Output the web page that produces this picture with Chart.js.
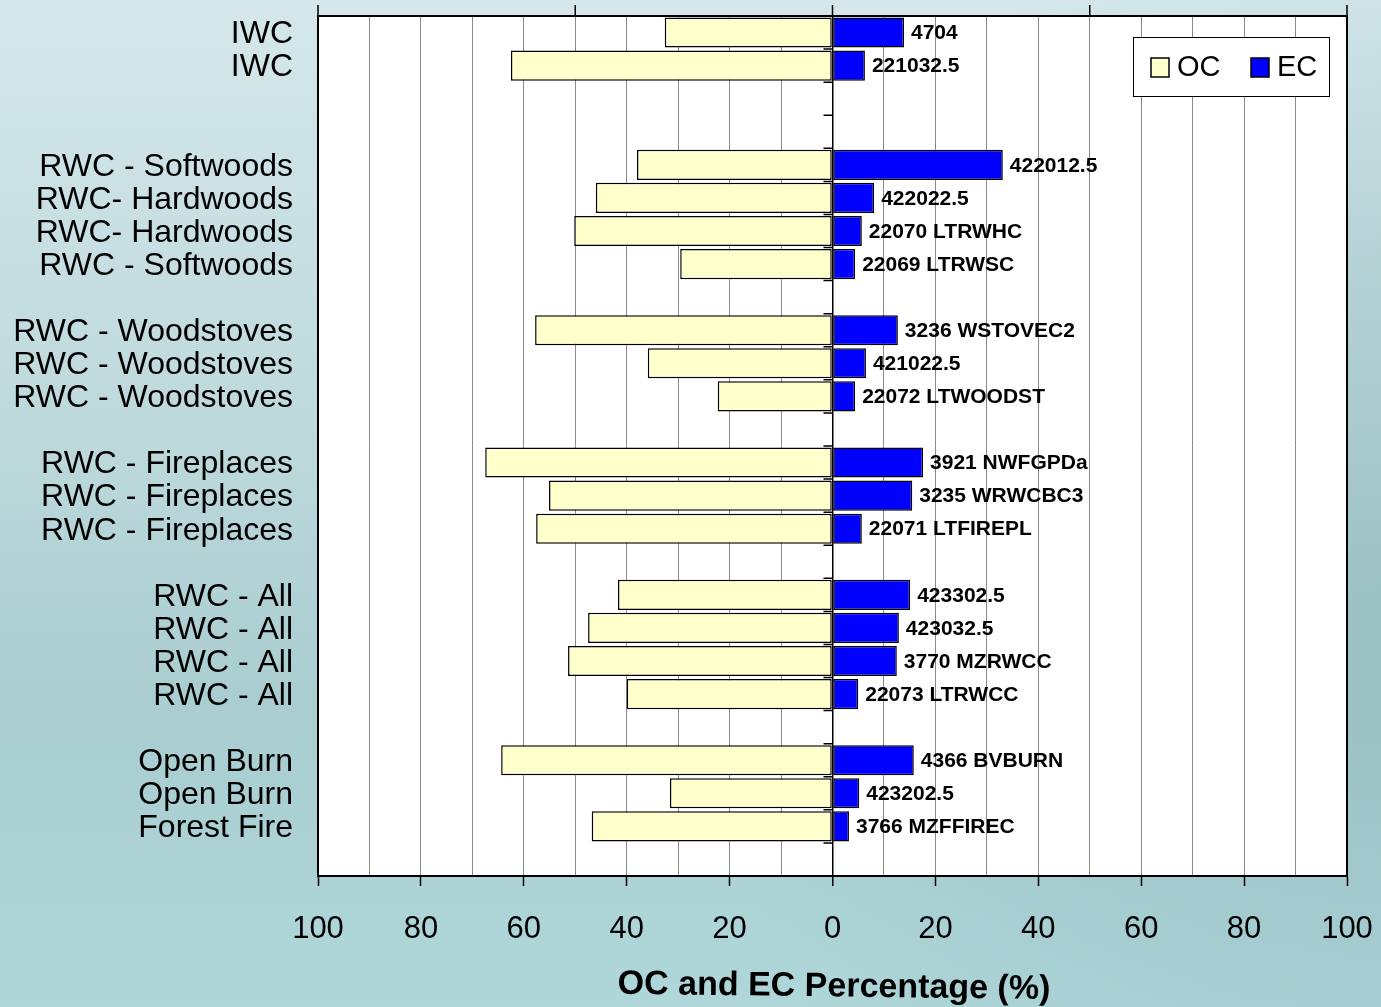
<!DOCTYPE html>
<html>
<head>
<meta charset="utf-8">
<script src="https://cdn.jsdelivr.net/npm/chart.js@4/dist/chart.umd.min.js"></script>
<style>
  html, body { margin: 0; padding: 0; background: #c4dde0; }
  canvas { display: block; }
</style>
</head>
<body>
<canvas id="chart" width="1381" height="1007"></canvas>
<script>
'use strict';

// 26 category slots, top to bottom; '' marks the gaps between groups
const categories = [
  'IWC', 'IWC', '', '',
  'RWC - Softwoods', 'RWC- Hardwoods', 'RWC- Hardwoods', 'RWC - Softwoods', '',
  'RWC - Woodstoves', 'RWC - Woodstoves', 'RWC - Woodstoves', '',
  'RWC - Fireplaces', 'RWC - Fireplaces', 'RWC - Fireplaces', '',
  'RWC - All', 'RWC - All', 'RWC - All', 'RWC - All', '',
  'Open Burn', 'Open Burn', 'Forest Fire', '',
];

// OC percentage (drawn to the left of zero)
const ocPercent = [
  32.6, 62.5, null, null,
  38.0, 46.0, 50.2, 29.6, null,
  57.8, 35.9, 22.3, null,
  67.5, 55.1, 57.6, null,
  41.7, 47.5, 51.4, 40.0, null,
  64.4, 31.6, 46.8, null,
];

// EC percentage (drawn to the right of zero)
const ecPercent = [
  13.9, 6.3, null, null,
  33.1, 8.1, 5.7, 4.4, null,
  12.7, 6.5, 4.4, null,
  17.6, 15.5, 5.7, null,
  15.1, 12.9, 12.5, 5.0, null,
  15.8, 5.2, 3.2, null,
];

// profile ids written next to the EC bars
const profileLabels = [
  '4704', '221032.5', '', '',
  '422012.5', '422022.5', '22070 LTRWHC', '22069 LTRWSC', '',
  '3236 WSTOVEC2', '421022.5', '22072 LTWOODST', '',
  '3921 NWFGPDa', '3235 WRWCBC3', '22071 LTFIREPL', '',
  '423302.5', '423032.5', '3770 MZRWCC', '22073 LTRWCC', '',
  '4366 BVBURN', '423202.5', '3766 MZFFIREC', '',
];

const topTickValues = [-100, -50, 0, 50, 100];

const FONT = '"Liberation Sans", Arial, Helvetica, sans-serif';
const ocColor = '#ffffcc';
const ecColor = '#0000ff';

const decorations = {
  id: 'decorations',
  beforeDraw(chart) {
    const { ctx, width, height, chartArea: a } = chart;
    ctx.save();
    const g = ctx.createLinearGradient(0, 0, 0, height);
    g.addColorStop(0, '#d5e7eb');
    g.addColorStop(0.45, '#bcd8db');
    g.addColorStop(0.7, '#a9cdd0');
    g.addColorStop(1, '#afd7da');
    ctx.fillStyle = g;
    ctx.fillRect(0, 0, width, height);
    const r = ctx.createRadialGradient(width, height * 0.6, 0, width, height * 0.6, 700);
    r.addColorStop(0, 'rgba(140,180,185,0.55)');
    r.addColorStop(1, 'rgba(140,180,185,0)');
    ctx.fillStyle = r;
    ctx.fillRect(0, 0, width, height);
    ctx.fillStyle = '#ffffff';
    ctx.fillRect(a.left, a.top, a.right - a.left, a.bottom - a.top);
    ctx.restore();
  },
  afterDatasetsDraw(chart) {
    const { ctx } = chart;
    const x = chart.scales.x;
    const y = chart.scales.y;
    const zero = x.getPixelForValue(0);
    const step = y.getPixelForValue(1) - y.getPixelForValue(0);
    ctx.save();
    // category tick marks on the zero axis
    ctx.strokeStyle = '#000';
    ctx.lineWidth = 1.5;
    ctx.beginPath();
    for (let i = 0; i <= categories.length; i++) {
      const py = y.getPixelForValue(0) - step / 2 + i * step;
      ctx.moveTo(zero - 9, py);
      ctx.lineTo(zero, py);
    }
    ctx.stroke();
    // profile labels at the end of each EC bar
    const meta = chart.getDatasetMeta(1);
    ctx.font = 'bold 21px ' + FONT;
    ctx.fillStyle = '#000';
    ctx.textAlign = 'left';
    ctx.textBaseline = 'middle';
    meta.data.forEach((bar, i) => {
      if (!profileLabels[i] || ecPercent[i] == null) return;
      ctx.fillText(profileLabels[i], bar.x + 7, bar.y + 1);
    });
    ctx.restore();
  },
  afterDraw(chart) {
    const { ctx, chartArea: a } = chart;
    const x = chart.scales.x;
    ctx.save();
    ctx.strokeStyle = '#000';
    ctx.lineWidth = 2;
    ctx.strokeRect(a.left, a.top, a.right - a.left, a.bottom - a.top);
    ctx.lineWidth = 1.5;
    ctx.beginPath();
    topTickValues.forEach(v => {
      const px = x.getPixelForValue(v);
      ctx.moveTo(px, a.top);
      ctx.lineTo(px, a.top - 11);
    });
    ctx.stroke();

    // legend box
    const lx = 1133, ly = 37, lw = 196, lh = 59;
    ctx.fillStyle = '#fff';
    ctx.fillRect(lx, ly, lw, lh);
    ctx.strokeStyle = '#000';
    ctx.lineWidth = 1;
    ctx.strokeRect(lx + 0.5, ly + 0.5, lw, lh);
    const items = chart.data.datasets.map(d => ({ text: d.label, color: d.backgroundColor }));
    const itemX = [1151, 1251];
    ctx.font = '29px ' + FONT;
    ctx.textBaseline = 'middle';
    ctx.textAlign = 'left';
    items.forEach((it, i) => {
      ctx.fillStyle = it.color;
      ctx.fillRect(itemX[i], 58, 18, 19);
      ctx.lineWidth = 1.5;
      ctx.strokeRect(itemX[i], 58, 18, 19);
      ctx.fillStyle = '#000';
      ctx.fillText(it.text, itemX[i] + 26, 68);
    });

    // axis title, slightly tilted as in the original
    ctx.translate(834, 987);
    ctx.rotate(0.012);
    ctx.font = 'bold 34px ' + FONT;
    ctx.textAlign = 'center';
    ctx.textBaseline = 'middle';
    ctx.fillStyle = '#000';
    ctx.fillText('OC and EC Percentage (%)', 0, 0);
    ctx.restore();
  },
};

new Chart(document.getElementById('chart'), {
  type: 'bar',
  data: {
    labels: categories,
    datasets: [
      {
        label: 'OC',
        data: ocPercent.map(v => (v == null ? null : -v)),
        backgroundColor: ocColor,
        borderColor: '#000',
        borderWidth: 1.5,
        borderSkipped: false,
        barPercentage: 0.91,
        categoryPercentage: 1,
      },
      {
        label: 'EC',
        data: ecPercent,
        backgroundColor: ecColor,
        borderColor: '#000',
        borderWidth: 1.5,
        borderSkipped: false,
        barPercentage: 0.91,
        categoryPercentage: 1,
      },
    ],
  },
  options: {
    indexAxis: 'y',
    responsive: false,
    animation: false,
    layout: { padding: { top: 16, right: 34, left: 0, bottom: 0 } },
    plugins: {
      legend: { display: false },
      tooltip: { enabled: false },
    },
    scales: {
      x: {
        stacked: true,
        min: -100,
        max: 100,
        afterFit: scale => {
          scale.height = 131;
          scale.paddingLeft = 0;
          scale.paddingRight = 0;
        },
        ticks: {
          stepSize: 10,
          autoSkip: false,
          maxRotation: 0,
          padding: 25,
          color: '#000',
          font: { family: FONT, size: 31 },
          callback: v => (v % 20 === 0 ? String(Math.abs(v)) : ''),
        },
        grid: {
          color: ctx => (ctx.tick && ctx.tick.value === 0 ? '#000' : '#8a8a8a'),
          lineWidth: ctx => (ctx.tick && ctx.tick.value === 0 ? 1.5 : 1),
          tickColor: ctx => (ctx.tick && ctx.tick.value % 20 === 0 ? '#000' : 'rgba(0,0,0,0)'),
          tickLength: 10,
          tickWidth: 1.5,
        },
        border: { color: '#000', width: 2 },
      },
      y: {
        stacked: true,
        afterFit: scale => {
          scale.width = 318;
          scale.paddingTop = 0;
          scale.paddingBottom = 0;
        },
        ticks: {
          autoSkip: false,
          padding: 25,
          labelOffset: 2,
          color: '#000',
          font: { family: FONT, size: 32 },
        },
        grid: { display: false, drawTicks: false },
        border: { color: '#000', width: 2 },
      },
    },
  },
  plugins: [decorations],
});
</script>
</body>
</html>
